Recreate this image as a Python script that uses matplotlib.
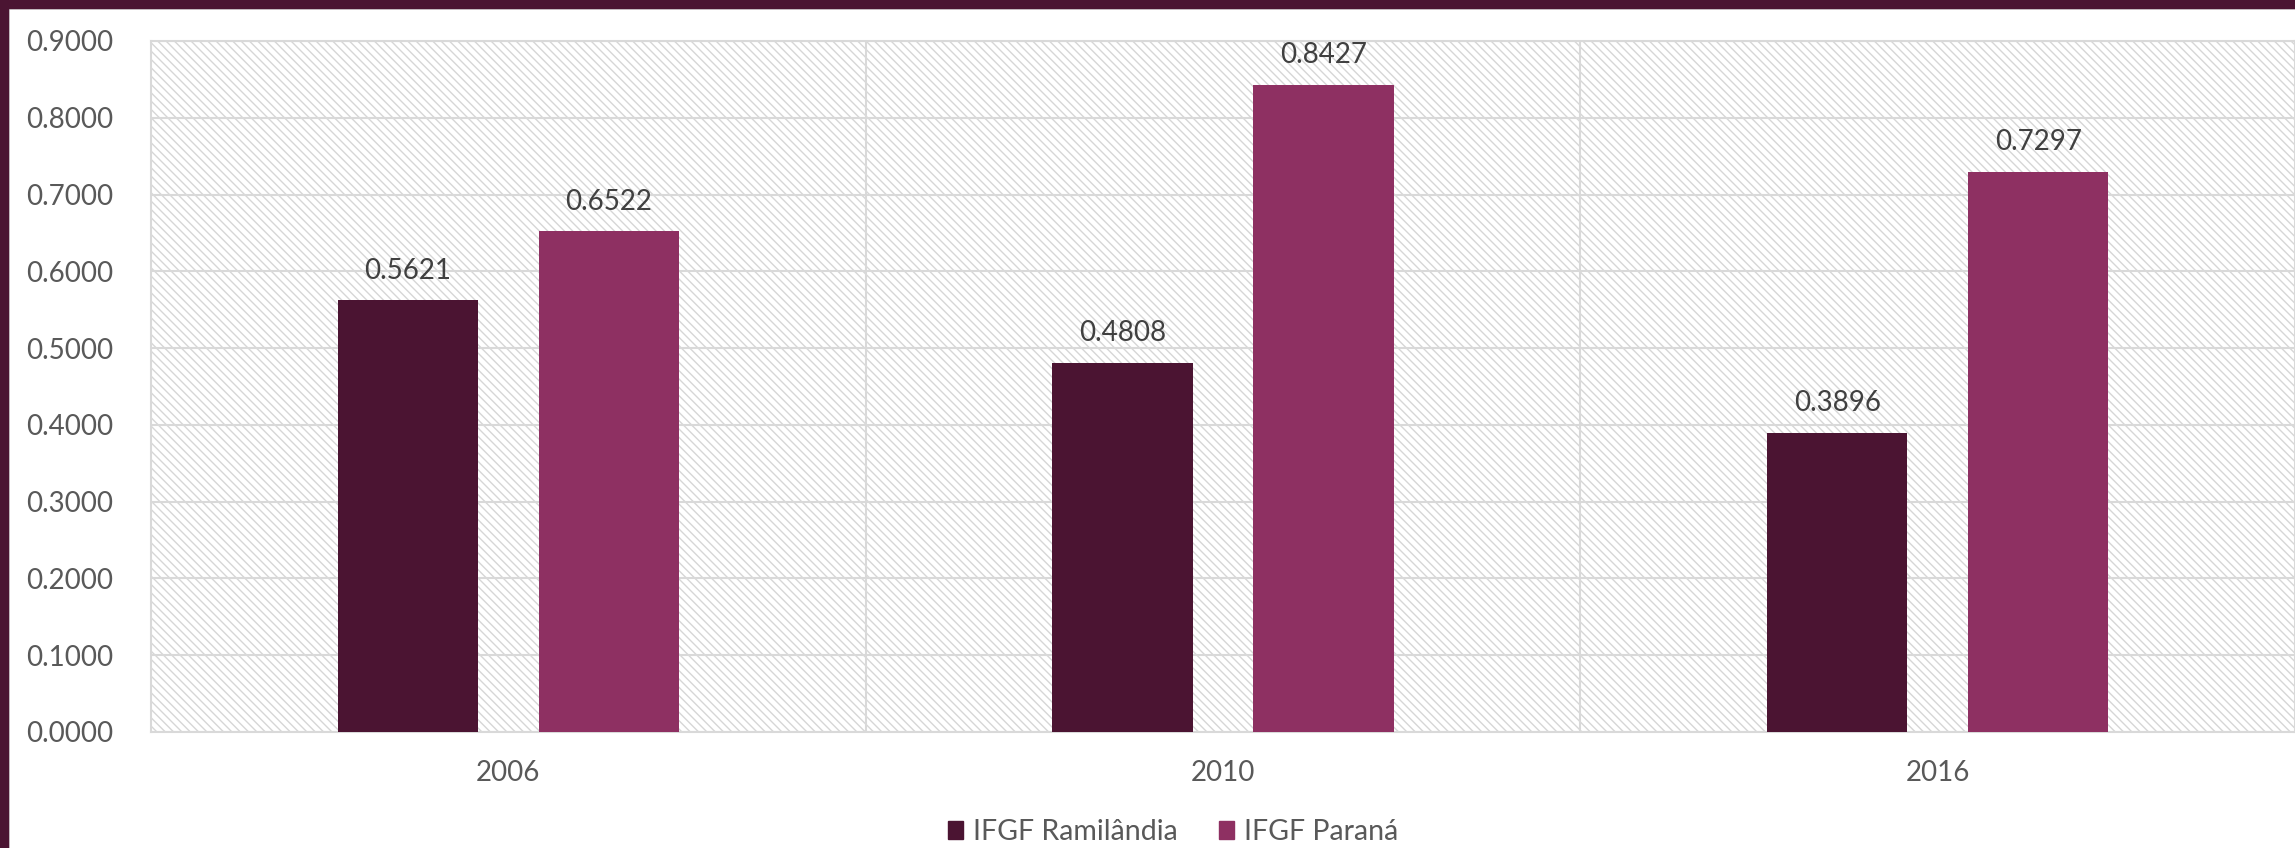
import numpy as np
import matplotlib
matplotlib.use("Agg")
import matplotlib.pyplot as plt
from matplotlib.patches import Rectangle, Patch
from matplotlib.ticker import FormatStrFormatter

plt.rcParams["font.family"] = ["Lato", "DejaVu Sans"]
plt.rcParams["hatch.linewidth"] = 1.0
plt.rcParams["hatch.color"] = "#D6D6D6"

# dados do gráfico
anos = ["2006", "2010", "2016"]
ifgf_ramilandia = [0.5621, 0.4808, 0.3896]
ifgf_parana = [0.6522, 0.8427, 0.7297]
series = ["IFGF Ramilândia", "IFGF Paraná"]

cor_ramilandia = "#4B1432"
cor_parana = "#8E3062"
cor_grade = "#D9D9D9"

fig = plt.figure(figsize=(22.95, 8.48), dpi=100)
ax = fig.add_axes([151 / 2295, 1 - 732 / 848, 1 - 151 / 2295, (732 - 41) / 848])

# fundo hachurado da área de plotagem
ax.add_patch(Rectangle((0, 0), 1, 1, transform=ax.transAxes, facecolor="white",
                       edgecolor="#D6D6D6", linewidth=0, hatch="\\\\\\\\", zorder=0))

x = np.arange(len(anos))
largura = 0.196
desloc = 0.1406

b1 = ax.bar(x - desloc, ifgf_ramilandia, largura, color=cor_ramilandia, zorder=3)
b2 = ax.bar(x + desloc, ifgf_parana, largura, color=cor_parana, zorder=3)

ax.bar_label(b1, fmt="%.4f", padding=12, fontsize=20, color="#404040")
ax.bar_label(b2, fmt="%.4f", padding=12, fontsize=20, color="#404040")

ax.set_xlim(-0.5, 2.5)
ax.set_ylim(0, 0.9)
ax.set_yticks(np.arange(0, 0.91, 0.1))
ax.yaxis.set_major_formatter(FormatStrFormatter("%.4f"))
ax.set_xticks(x)
ax.set_xticklabels(anos)
ax.set_xticks([0.5, 1.5], minor=True)

ax.tick_params(axis="y", length=0, pad=27, labelsize=20, labelcolor="#595959")
ax.tick_params(axis="x", which="both", length=0, pad=20, labelsize=20, labelcolor="#595959")

ax.grid(axis="y", color=cor_grade, linewidth=1.5, zorder=1)
ax.grid(axis="x", which="minor", color=cor_grade, linewidth=1.5, zorder=1)
ax.set_axisbelow(True)

for lado in ["left", "top", "bottom", "right"]:
    ax.spines[lado].set_color(cor_grade)
    ax.spines[lado].set_linewidth(1.5)

# legenda
handles = [Patch(color=cor_ramilandia), Patch(color=cor_parana)]
fig.legend(handles, series, loc="center", bbox_to_anchor=(1173 / 2295, 1 - 832 / 848),
           ncol=2, frameon=False, fontsize=20.5, labelcolor="#595959",
           handlelength=0.53, handleheight=0.63, handletextpad=0.35, columnspacing=1.44,
           borderpad=0, borderaxespad=0)

# moldura
fig.patches.append(Rectangle((0, 1 - 8 / 848), 1, 8 / 848, transform=fig.transFigure,
                             color=cor_ramilandia, zorder=10))
fig.patches.append(Rectangle((0, 0), 8 / 2295, 1, transform=fig.transFigure,
                             color=cor_ramilandia, zorder=10))
fig.lines.append(plt.Line2D([0, 1], [1 - 9 / 848, 1 - 9 / 848], transform=fig.transFigure,
                            color=cor_grade, linewidth=1.2))
fig.lines.append(plt.Line2D([9 / 2295, 9 / 2295], [0, 1 - 9 / 848], transform=fig.transFigure,
                            color=cor_grade, linewidth=1.2))

fig.savefig("out.png", dpi=100)
